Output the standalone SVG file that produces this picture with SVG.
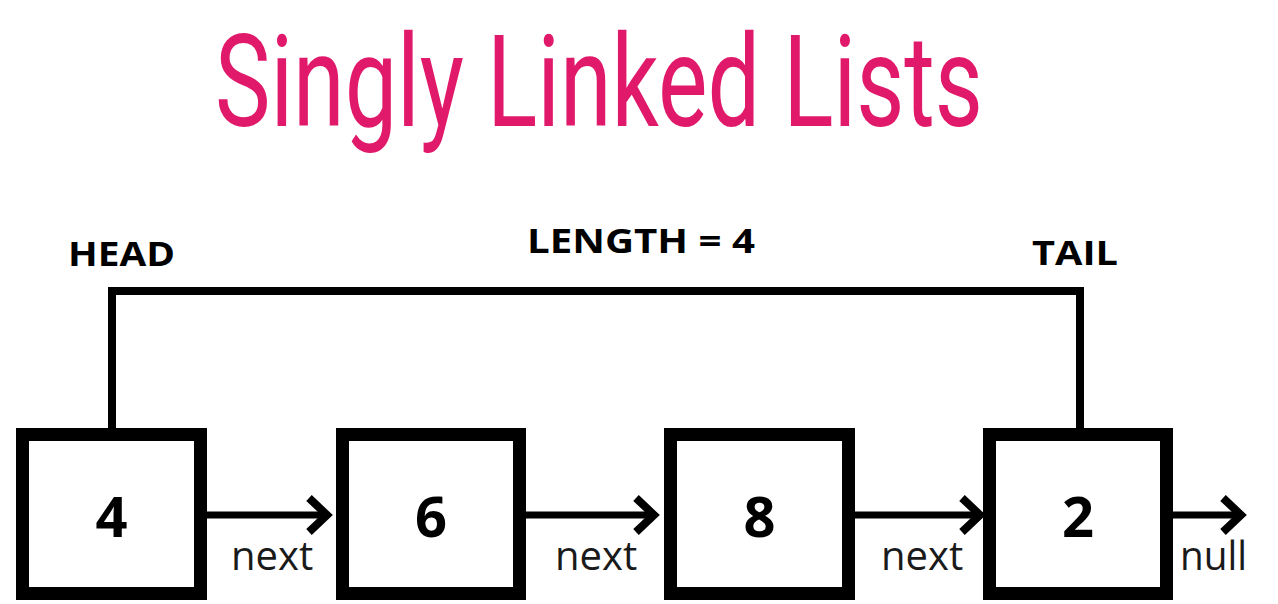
<svg xmlns="http://www.w3.org/2000/svg" width="1278" height="604" viewBox="0 0 1278 604">
<defs>
<style>
.box{fill:#fff;stroke:#000;stroke-width:13}
.val{font-family:"Open Sans","DejaVu Sans",sans-serif;font-weight:700;font-size:56px;fill:#000;text-anchor:middle}
.lbl{font-family:"Open Sans","DejaVu Sans",sans-serif;font-weight:400;font-size:40px;fill:#1a1a1a}
.cap{font-family:"Open Sans","DejaVu Sans",sans-serif;font-weight:700;font-size:34px;fill:#000}
.link{fill:none;stroke:#000;stroke-width:8}
.arrow{fill:none;stroke:#000;stroke-width:7;marker-end:url(#chev)}
</style>
<marker id="chev" markerUnits="userSpaceOnUse" markerWidth="40" markerHeight="50" refX="22" refY="20" orient="auto" overflow="visible">
<path d="M4,3 L22,20 L4,37" fill="none" stroke="#000" stroke-width="8" stroke-linejoin="miter"/>
</marker>
</defs>
<rect width="1278" height="604" fill="#fff"/>
<text x="215" y="126" font-family="Roboto,'Open Sans',sans-serif" font-weight="400" font-size="128" fill="#E1196B" textLength="768" lengthAdjust="spacingAndGlyphs">Singly Linked Lists</text>

<g id="labels">
<text class="cap" x="68" y="266" textLength="107" lengthAdjust="spacingAndGlyphs">HEAD</text>
<text class="cap" x="527" y="253" textLength="228" lengthAdjust="spacingAndGlyphs">LENGTH = 4</text>
<text class="cap" x="1032" y="265" textLength="86" lengthAdjust="spacingAndGlyphs">TAIL</text>
</g>

<g id="connectors">
<polyline class="link" points="112,428 112,291 1080,291 1080,428"/>
<line class="arrow" x1="207" y1="515" x2="327" y2="515"/>
<line class="arrow" x1="526" y1="515" x2="654" y2="515"/>
<line class="arrow" x1="855" y1="515" x2="980" y2="515"/>
<line class="arrow" x1="1173" y1="515" x2="1241" y2="515"/>
<text class="lbl" x="231" y="570">next</text>
<text class="lbl" x="555" y="570">next</text>
<text class="lbl" x="881" y="570">next</text>
<text class="lbl" x="1180" y="570" textLength="67" lengthAdjust="spacingAndGlyphs">null</text>
</g>

<g id="node-4">
<rect class="box" x="22.5" y="434.5" width="178" height="159"/>
<text class="val" x="111.5" y="537">4</text>
</g>
<g id="node-6">
<rect class="box" x="342.5" y="434.5" width="177" height="159"/>
<text class="val" x="431" y="537">6</text>
</g>
<g id="node-8">
<rect class="box" x="670.5" y="434.5" width="178" height="159"/>
<text class="val" x="759.5" y="537">8</text>
</g>
<g id="node-2">
<rect class="box" x="989.5" y="434.5" width="177" height="159"/>
<text class="val" x="1078" y="537">2</text>
</g>
</svg>
